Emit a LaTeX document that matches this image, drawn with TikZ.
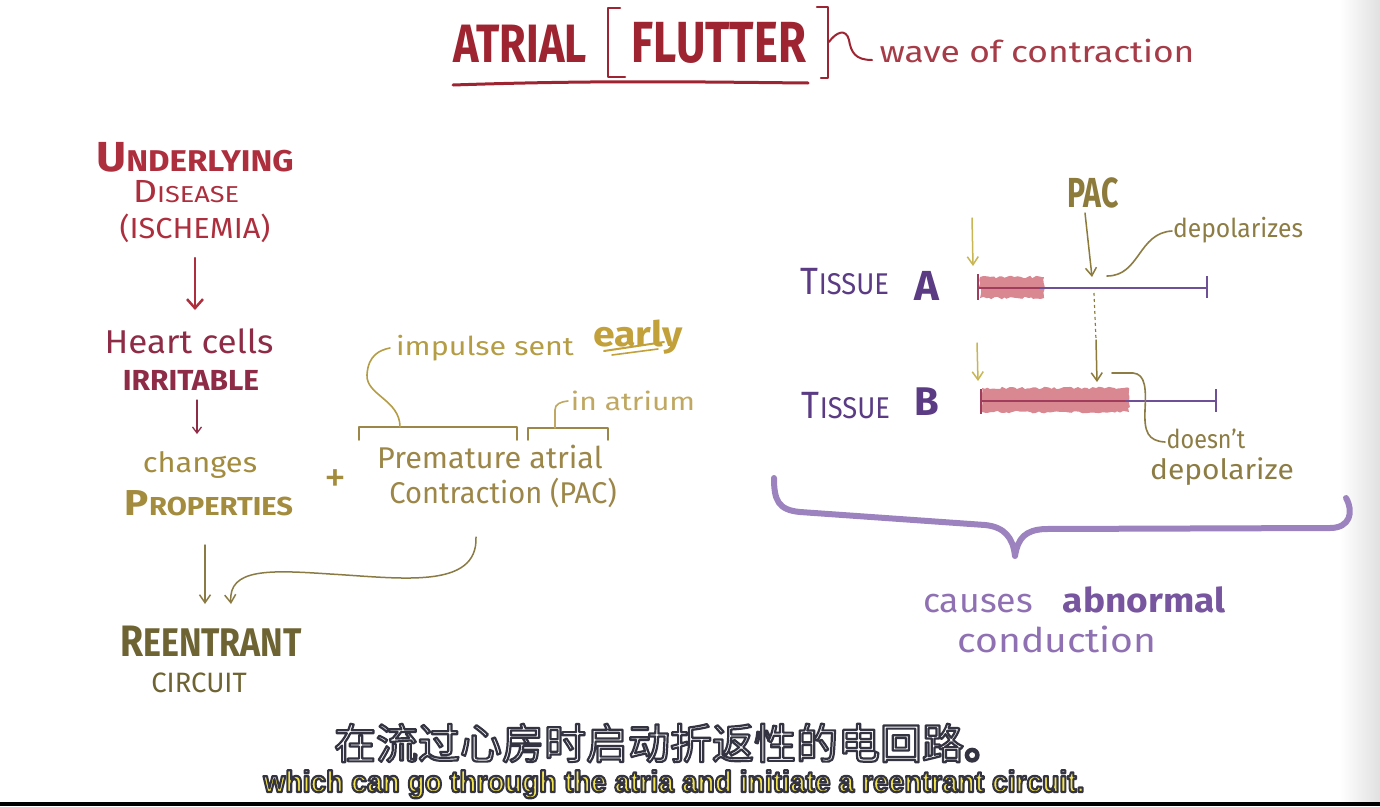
\documentclass[tikz,border=0pt]{standalone}
\usepackage{fontspec}
\usepackage{graphicx}
\usetikzlibrary{arrows.meta,decorations.pathmorphing}
\setmainfont{Fira Sans}
\newfontfamily\cjk{Noto Sans CJK SC}
\newfontfamily\subf{Liberation Sans}
\newcommand\fs[1]{\fontsize{#1}{#1}\selectfont}
\newcommand\hs[2]{\scalebox{#1}[1]{#2}}
\newcommand\outl[2]{\special{pdf:literal direct 2 Tr #1 w 0.2 0.2 0.26 RG 1 j}#2\special{pdf:literal direct 0 Tr}}
\definecolor{titlered}{HTML}{9E2431}
\definecolor{wavered}{HTML}{A63C48}
\definecolor{dred}{HTML}{AD2F3E}
\definecolor{maroon}{HTML}{8E2C47}
\definecolor{gold}{HTML}{A38C3E}
\definecolor{goldmid}{HTML}{9C8648}
\definecolor{goldimp}{HTML}{B59D46}
\definecolor{goldbright}{HTML}{C2A03A}
\definecolor{goldlight}{HTML}{C0A862}
\definecolor{olive}{HTML}{6E6333}
\definecolor{olivearr}{HTML}{8A7B45}
\definecolor{purp}{HTML}{5A3B84}
\definecolor{purpl}{HTML}{6E5096}
\definecolor{pinkf}{HTML}{D98892}
\definecolor{pinkd}{HTML}{A03C5C}
\definecolor{yel}{HTML}{C8B655}
\definecolor{pacc}{HTML}{8C7B3B}
\definecolor{depc}{HTML}{8D7D45}
\definecolor{bracec}{HTML}{9C83C0}
\definecolor{purlt}{HTML}{8F71B3}
\definecolor{purdk}{HTML}{77569F}
\definecolor{subyel}{HTML}{F2E44C}
\tikzset{
  txt/.style={inner sep=0pt, anchor=base},
  bigarrow/.style={line width=2.5pt, line cap=round, -{Straight Barb[length=9pt,width=16pt]}},
  smallarrow/.style={line width=1.3pt, line cap=round, -{Straight Barb[length=6pt,width=9pt]}},
  midarrow/.style={line width=1.5pt, line cap=round, -{Straight Barb[length=8pt,width=11pt]}},
  hand/.style={line width=1.6pt, line cap=round, line join=round},
  blob/.style={fill=pinkf, decorate, decoration={random steps, segment length=3pt, amplitude=1.3pt}},
}
\begin{document}
\pgfmathsetseed{42}
\begin{tikzpicture}[x=1pt,y=-1pt]
\useasboundingbox (0,0) rectangle (1380,806);
\fill[white] (0,0) rectangle (1380,806);
\shade[left color=white,right color=black!12] (1340,0) rectangle (1380,802);
\fill[black] (0,802) rectangle (1380,806);

% ---------- title ----------
\node[txt,text=titlered] (atrial) at (520,62) {\bfseries\hs{0.8}{\fs{54}ATRIAL}};
\node[txt,text=titlered] (flutter) at (719,62) {\bfseries\hs{0.78}{\fs{58}FLUTTER}};
\node[txt,text=wavered] (wave) at (1037,62) {\hs{1.18}{\fs{30}wave of contraction}};
\draw[titlered,line width=2.5pt,line join=round,line cap=round] (620,8) -- (608,8) -- (608,77) -- (625,77);
\draw[titlered,line width=2.5pt,line join=round,line cap=round] (817,7) -- (828,7) -- (828,78) -- (821,78);
\draw[titlered,hand,line width=2pt] (829,42) .. controls (836,32) and (846,28) .. (849,40) .. controls (851,52) and (855,60) .. (872,60);
\draw[titlered,line width=3pt,line cap=round] (453,85) .. controls (600,80) and (700,82) .. (808,83);

% ---------- left column ----------
\node[txt,text=dred] (under) at (195,171) {\bfseries\hs{1.1}{\fs{42}U\fs{30}NDERLYING}};
\node[txt,text=dred] (disease) at (186,202) {\hs{1.18}{\fs{32}D\fs{23}ISEASE}};
\node[txt,text=dred] (isch) at (195,238) {\hs{1.06}{\fs{29}(ISCHEMIA)}};
\coordinate (a1s) at (195,258);
\coordinate (a1e) at (195,310);
\draw[dred,bigarrow] (a1s) -- (a1e);
\node[txt,text=maroon] (heart) at (189,353) {\hs{1.06}{\fs{33}Heart cells}};
\node[txt,text=maroon] (irrit) at (191,390) {\bfseries\hs{1.03}{\fs{29}IRRITABLE}};
\coordinate (a2s) at (197,400);
\coordinate (a2e) at (197,434);
\draw[maroon,smallarrow] (a2s) -- (a2e);
\node[txt,text=gold] (changes) at (200,472) {\hs{1.1}{\fs{28}changes}};
\node[txt,text=gold] (props) at (209,515) {\bfseries\hs{1.12}{\fs{36}P\fs{26}ROPERTIES}};
\node[text=gold,inner sep=0pt] (plus) at (335,481) {\fs{44}+};
\coordinate (a3s) at (205,545);
\coordinate (a3e) at (205,604);
\draw[olivearr,midarrow] (a3s) -- (a3e);
\coordinate (a4s) at (476,537);
\coordinate (a4e) at (231,604);
\draw[olivearr,midarrow] (a4s) .. controls (478,590) and (400,578) .. (330,574) .. controls (270,570) and (228,568) .. (a4e);
\node[txt,text=olive] (reent) at (211,656) {\bfseries\hs{0.85}{\fs{44}R\fs{40}EENTRANT}};
\node[txt,text=olive] (circ) at (199,692) {\hs{0.98}{\fs{28}CIRCUIT}};

% ---------- PAC definition ----------
\node[txt,text=goldmid] (prem) at (490,468) {\hs{1.02}{\fs{30}Premature atrial}};
\node[txt,text=goldmid] (contr) at (503,503) {\hs{0.97}{\fs{30}Contraction (PAC)}};
\node[txt,text=goldimp] (impulse) at (485,355) {\hs{1.17}{\fs{26}impulse sent}};
\node[txt,text=goldbright] (early) at (638,346) {\bfseries\hs{1.12}{\fs{35}early}};
\draw[goldbright,hand,line width=2pt] (604,351) -- (664,342);
\draw[goldbright,hand,line width=1.6pt] (612,355) -- (658,349);
\node[txt,text=goldlight] (inatr) at (633,410) {\hs{1.2}{\fs{25}in atrium}};
\draw[goldmid,hand] (359,440) -- (359,427) -- (517,427) -- (517,440);
\draw[goldimp,hand] (400,427) .. controls (400,400) and (366,395) .. (367,375) .. controls (368,355) and (380,350) .. (390,348);
\draw[goldmid,hand] (528,440) -- (528,428) -- (608,428) -- (608,440);
\draw[goldlight,hand] (555,428) -- (555,410) .. controls (555,404) and (560,402) .. (568,401);

% ---------- tissues ----------
\node[txt,text=purp] (tisA) at (845,294) {\hs{0.91}{\fs{38}T\fs{30}ISSUE}};
\node[txt,text=purp] (A) at (927,300) {\bfseries\fs{42}A};
\node[txt,text=purp] (tisB) at (846,418) {\hs{0.91}{\fs{38}T\fs{30}ISSUE}};
\node[txt,text=purp] (B) at (927,415) {\bfseries\fs{40}B};

\fill[blob] (980,277) rectangle (1044,298);
\coordinate (lAs) at (978,288);
\coordinate (lAe) at (1207,288);
\draw[purpl,line width=1.6pt] (lAs) -- (lAe);
\draw[pinkd,line width=2pt] (980,288) -- (1040,288);
\draw[pinkd,line width=2pt] (978,274) -- (978,300);
\draw[purpl,line width=2.2pt] (1207,276) -- (1207,298);

\fill[blob] (982,388) rectangle (1129,412);
\coordinate (lBs) at (980,401);
\coordinate (lBe) at (1216,401);
\draw[purpl,line width=1.6pt] (lBs) -- (lBe);
\draw[pinkd,line width=2pt] (982,401) -- (1125,401);
\draw[pinkd,line width=2pt] (981,389) -- (981,414);
\draw[purpl,line width=2.2pt] (1216,389) -- (1216,412);

\coordinate (yAs) at (972,218);
\coordinate (yAe) at (973,266);
\draw[yel,midarrow] (yAs) -- (yAe);
\coordinate (yBs) at (977,343);
\coordinate (yBe) at (978,381);
\draw[yel,midarrow] (yBs) -- (yBe);

\node[txt,text=pacc] (pac) at (1093,207) {\bfseries\hs{0.72}{\fs{42}PAC}};
\coordinate (pAs) at (1085,213);
\coordinate (pAe) at (1092,277);
\draw[pacc,midarrow] (pAs) -- (pAe);
\coordinate (dS) at (1094,293);
\coordinate (dE) at (1096,340);
\draw[pacc,line width=1.2pt,dashed] (dS) -- (dE);
\coordinate (pBe) at (1097,382);
\draw[pacc,midarrow] (dE) -- (pBe);

\node[txt,text=depc] (depA) at (1238,237) {\hs{0.95}{\fs{26}depolarizes}};
\draw[depc,hand] (1107,276) .. controls (1140,276) and (1138,233) .. (1172,231);
\node[txt,text=depc] (doesnt) at (1206,448) {\hs{0.9}{\fs{26}doesn't}};
\node[txt,text=depc] (depB) at (1222,479) {\hs{1.07}{\fs{28}depolarize}};
\draw[depc,hand] (1112,373) -- (1133,373) .. controls (1146,374) and (1146,390) .. (1145,410) .. controls (1144,432) and (1148,441) .. (1165,442);

% ---------- brace ----------
\draw[bracec,line width=6pt,line cap=round,line join=round] (774,478) .. controls (774,500) and (778,510) .. (800,512) -- (985,525) .. controls (1005,527) and (1013,538) .. (1015,556) .. controls (1018,538) and (1025,530) .. (1045,529) -- (1330,528) .. controls (1350,528) and (1354,512) .. (1346,498);
\node[txt,text=purlt] (causes) at (978,612) {\hs{1.05}{\fs{34}causes}};
\node[txt,text=purdk] (abn) at (1144,612) {\bfseries\hs{1.09}{\fs{34}abnormal}};
\node[txt,text=purlt] (cond) at (1057,652) {\hs{1.15}{\fs{34}conduction}};

% ---------- subtitles ----------
\node[text=white,inner sep=0pt] (zh) at (670,743) {\cjk\fs{42}\outl{2.2}{在流过心房时启动折返性的电回路。}};
\node[txt,text=subyel] (en) at (674,792) {\subf\bfseries\hs{0.94}{\fs{30}\outl{2.2}{which can go through the atria and initiate a reentrant circuit.}}};
\end{tikzpicture}
\end{document}
